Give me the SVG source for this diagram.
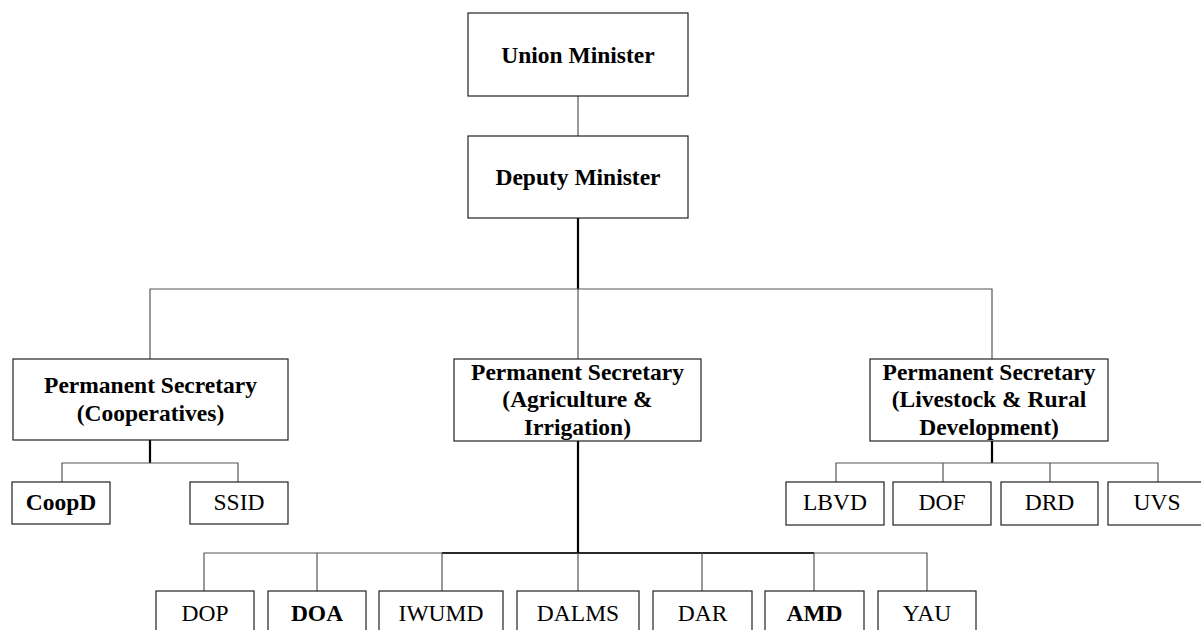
<svg xmlns="http://www.w3.org/2000/svg" width="1201" height="630" viewBox="0 0 1201 630">
<style>
.box{fill:#fff;stroke:#222;stroke-width:1.2}
text{font-family:"Liberation Serif","Times New Roman",serif;font-size:23.5px;fill:#000;text-anchor:middle}
.b{font-weight:bold}
.c{stroke:#555;stroke-width:1.2;fill:none}
.k{stroke:#000;stroke-width:2.2;fill:none}
</style>
<rect width="1201" height="630" fill="#fff"/>
<g id="connectors">
<line class="c" x1="578" y1="96" x2="578" y2="136"/>
<line class="k" x1="578" y1="218" x2="578" y2="289"/>
<polyline class="c" points="150,359 150,289 992,289 992,359"/>
<line class="c" x1="578" y1="289" x2="578" y2="359"/>
<line class="k" x1="150" y1="440" x2="150" y2="463"/>
<polyline class="c" points="62,482 62,463 238,463 238,482"/>
<line class="k" x1="578" y1="441" x2="578" y2="553"/>
<polyline class="c" points="204,591 204,553 927,553 927,591"/>
<line class="k" x1="442" y1="553" x2="814" y2="553" style="stroke-width:1.6"/>
<line class="c" x1="317" y1="553" x2="317" y2="591"/>
<line class="c" x1="442" y1="553" x2="442" y2="591"/>
<line class="c" x1="578" y1="553" x2="578" y2="591"/>
<line class="c" x1="702" y1="553" x2="702" y2="591"/>
<line class="c" x1="814" y1="553" x2="814" y2="591"/>
<line class="k" x1="992" y1="441" x2="992" y2="463"/>
<polyline class="c" points="836,482 836,463 1158,463 1158,482"/>
<line class="c" x1="943" y1="463" x2="943" y2="482"/>
<line class="c" x1="1050" y1="463" x2="1050" y2="482"/>
</g>
<g id="union-minister"><rect class="box" x="468" y="13" width="220" height="83"/><text class="b" x="578" y="63">Union Minister</text></g>
<g id="deputy-minister"><rect class="box" x="468" y="136" width="220" height="82"/><text class="b" x="578" y="185">Deputy Minister</text></g>
<g id="ps-coop"><rect class="box" x="13" y="359" width="275" height="81"/><text class="b" x="150.5" y="393">Permanent Secretary</text><text class="b" x="150.5" y="421">(Cooperatives)</text></g>
<g id="ps-agri"><rect class="box" x="454" y="359" width="247" height="82"/><text class="b" x="577.5" y="380">Permanent Secretary</text><text class="b" x="577.5" y="407">(Agriculture &amp;</text><text class="b" x="577.5" y="435">Irrigation)</text></g>
<g id="ps-livestock"><rect class="box" x="870" y="359" width="238" height="82"/><text class="b" x="989" y="380">Permanent Secretary</text><text class="b" x="989" y="407">(Livestock &amp; Rural</text><text class="b" x="989" y="435">Development)</text></g>
<g id="coopd"><rect class="box" x="12" y="482" width="98" height="42"/><text class="b" x="61" y="510">CoopD</text></g>
<g id="ssid"><rect class="box" x="190" y="482" width="98" height="42"/><text x="239" y="510">SSID</text></g>
<g id="lbvd"><rect class="box" x="786" y="482" width="98" height="43"/><text x="835" y="510">LBVD</text></g>
<g id="dof"><rect class="box" x="893" y="482" width="98" height="43"/><text x="942" y="510">DOF</text></g>
<g id="drd"><rect class="box" x="1001" y="482" width="97" height="43"/><text x="1049.5" y="510">DRD</text></g>
<g id="uvs"><rect class="box" x="1108" y="482" width="98" height="43"/><text x="1157" y="510">UVS</text></g>
<g id="dop"><rect class="box" x="156" y="591" width="98" height="50"/><text x="205" y="621">DOP</text></g>
<g id="doa"><rect class="box" x="268" y="591" width="98" height="50"/><text class="b" x="317" y="621">DOA</text></g>
<g id="iwumd"><rect class="box" x="379" y="591" width="124" height="50"/><text x="441" y="621">IWUMD</text></g>
<g id="dalms"><rect class="box" x="517" y="591" width="122" height="50"/><text x="578" y="621">DALMS</text></g>
<g id="dar"><rect class="box" x="653" y="591" width="99" height="50"/><text x="702.5" y="621">DAR</text></g>
<g id="amd"><rect class="box" x="765" y="591" width="99" height="50"/><text class="b" x="814.5" y="621">AMD</text></g>
<g id="yau"><rect class="box" x="878" y="591" width="98" height="50"/><text x="927" y="621">YAU</text></g>
</svg>
